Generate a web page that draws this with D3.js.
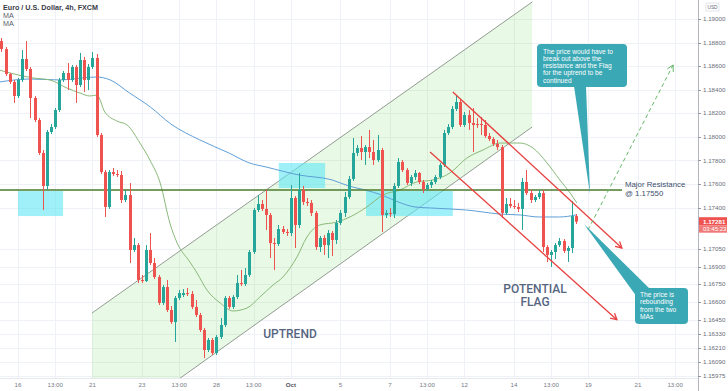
<!DOCTYPE html>
<html>
<head>
<meta charset="utf-8">
<script src="https://cdn.jsdelivr.net/npm/d3@7"></script>
<style>
  body { margin: 0; background: #fff; }
  svg { display: block; font-family: 'Liberation Sans', Arial, sans-serif; }
</style>
</head>
<body>
<div id="chart-area"></div>
<script>
// EUR/USD 4h candles, 6 slots per trading day, first candle sits in slot 2
const firstSlot = 2

const opens = [
  1.18813, 1.18745, 1.18533, 1.18466, 1.18347, 1.18483, 1.18661, 1.18576, 1.18330, 1.18143,
  1.17864, 1.17584, 1.18042, 1.18084, 1.18228, 1.18483, 1.18542, 1.18483, 1.18593, 1.18440,
  1.18652, 1.18483, 1.18593, 1.18669, 1.18016, 1.17702, 1.17406, 1.17702, 1.17685, 1.17677,
  1.17465, 1.17507, 1.17041, 1.17083, 1.16787, 1.16778, 1.17041, 1.16931, 1.16812, 1.16592,
  1.16727, 1.16532, 1.16430, 1.16634, 1.16659, 1.16676, 1.16668, 1.16558, 1.16490, 1.16363,
  1.16193, 1.16278, 1.16168, 1.16303, 1.16405, 1.16634, 1.16558, 1.16642, 1.16761, 1.16753,
  1.16829, 1.17024, 1.17380, 1.17431, 1.17389, 1.17338, 1.17100, 1.17092, 1.17219, 1.17194,
  1.17185, 1.17482, 1.17253, 1.17550, 1.17448, 1.17440, 1.17355, 1.17066, 1.17143, 1.17083,
  1.17185, 1.17126, 1.17270, 1.17355, 1.17490, 1.17643, 1.17864, 1.17906, 1.17872, 1.17914,
  1.17872, 1.17804, 1.17889, 1.17338, 1.17355, 1.17346, 1.17584, 1.17787, 1.17719, 1.17609,
  1.17660, 1.17694, 1.17618, 1.17558, 1.17592, 1.17618, 1.17660, 1.17762, 1.18033, 1.18084,
  1.18237, 1.18296, 1.18101, 1.18186, 1.18118, 1.18109, 1.18109, 1.18101, 1.18008, 1.17982,
  1.17940, 1.17914, 1.17355, 1.17431, 1.17414, 1.17406, 1.17389, 1.17618, 1.17524, 1.17465,
  1.17490, 1.17524, 1.17066, 1.16999, 1.17024, 1.17083, 1.17117, 1.17033, 1.17058, 1.17329
]
const highs = [
  1.18839, 1.18762, 1.18542, 1.18483, 1.18500, 1.18737, 1.18813, 1.18593, 1.18347, 1.18160,
  1.17889, 1.18059, 1.18109, 1.18245, 1.18500, 1.18559, 1.18627, 1.18610, 1.18610, 1.18712,
  1.18678, 1.18618, 1.18720, 1.18703, 1.18033, 1.17719, 1.17719, 1.17736, 1.17719, 1.17711,
  1.17550, 1.17609, 1.17143, 1.17100, 1.16829, 1.17083, 1.17185, 1.16973, 1.16829, 1.16744,
  1.16787, 1.16566, 1.16651, 1.16702, 1.16710, 1.16719, 1.16693, 1.16617, 1.16507, 1.16380,
  1.16295, 1.16295, 1.16320, 1.16464, 1.16651, 1.16651, 1.16659, 1.16829, 1.16871, 1.16888,
  1.17041, 1.17397, 1.17507, 1.17465, 1.17550, 1.17355, 1.17143, 1.17253, 1.17245, 1.17219,
  1.17592, 1.17499, 1.17694, 1.17584, 1.17482, 1.17465, 1.17372, 1.17160, 1.17168, 1.17211,
  1.17202, 1.17295, 1.17380, 1.17533, 1.17669, 1.17991, 1.17931, 1.18008, 1.17931, 1.18059,
  1.17974, 1.18016, 1.17906, 1.17380, 1.17397, 1.17609, 1.17821, 1.17804, 1.17736, 1.17677,
  1.17719, 1.17702, 1.17635, 1.17609, 1.17635, 1.17677, 1.17779, 1.18059, 1.18109, 1.18262,
  1.18347, 1.18313, 1.18211, 1.18228, 1.18245, 1.18160, 1.18169, 1.18143, 1.18033, 1.17999,
  1.17974, 1.17931, 1.17482, 1.17482, 1.17465, 1.17440, 1.17652, 1.17719, 1.17550, 1.17507,
  1.17550, 1.17550, 1.17083, 1.17041, 1.17100, 1.17143, 1.17134, 1.17075, 1.17457, 1.17346
]
const lows = [
  1.18720, 1.18517, 1.18449, 1.18288, 1.18330, 1.18466, 1.18559, 1.18160, 1.18126, 1.17847,
  1.17380, 1.17550, 1.18025, 1.18067, 1.18211, 1.18466, 1.18398, 1.18466, 1.18288, 1.18423,
  1.18381, 1.18398, 1.18576, 1.18000, 1.17686, 1.17321, 1.17389, 1.17669, 1.17660, 1.17440,
  1.17448, 1.16931, 1.17024, 1.16761, 1.16761, 1.16770, 1.16914, 1.16795, 1.16575, 1.16575,
  1.16515, 1.16414, 1.16261, 1.16617, 1.16642, 1.16651, 1.16541, 1.16473, 1.16346, 1.16125,
  1.16176, 1.16151, 1.16151, 1.16286, 1.16388, 1.16541, 1.16541, 1.16625, 1.16736, 1.16736,
  1.16812, 1.17007, 1.17363, 1.17372, 1.17211, 1.16973, 1.16871, 1.17075, 1.17177, 1.17160,
  1.17160, 1.17058, 1.17228, 1.17423, 1.17414, 1.17329, 1.17041, 1.17024, 1.16999, 1.16973,
  1.16990, 1.17092, 1.17253, 1.17321, 1.17473, 1.17626, 1.17838, 1.17804, 1.17762, 1.17821,
  1.17762, 1.17787, 1.17194, 1.17312, 1.17321, 1.17312, 1.17567, 1.17702, 1.17592, 1.17584,
  1.17635, 1.17601, 1.17524, 1.17541, 1.17567, 1.17601, 1.17643, 1.17745, 1.18016, 1.18067,
  1.18220, 1.18084, 1.18084, 1.18059, 1.17872, 1.18076, 1.18016, 1.17991, 1.17965, 1.17923,
  1.17889, 1.17312, 1.17338, 1.17397, 1.17389, 1.17363, 1.17211, 1.17507, 1.17440, 1.17448,
  1.17473, 1.17024, 1.16939, 1.16897, 1.16965, 1.17066, 1.17016, 1.16939, 1.17016, 1.17261
]
const closes = [
  1.18745, 1.18533, 1.18466, 1.18347, 1.18483, 1.18661, 1.18576, 1.18330, 1.18143, 1.17864,
  1.17584, 1.18042, 1.18084, 1.18228, 1.18483, 1.18542, 1.18483, 1.18593, 1.18440, 1.18652,
  1.18483, 1.18593, 1.18669, 1.18016, 1.17702, 1.17406, 1.17702, 1.17685, 1.17677, 1.17465,
  1.17507, 1.17041, 1.17083, 1.16787, 1.16778, 1.17041, 1.16931, 1.16812, 1.16592, 1.16727,
  1.16532, 1.16430, 1.16634, 1.16676, 1.16676, 1.16668, 1.16558, 1.16490, 1.16363, 1.16193,
  1.16278, 1.16168, 1.16303, 1.16405, 1.16634, 1.16558, 1.16642, 1.16761, 1.16753, 1.16829,
  1.17024, 1.17380, 1.17431, 1.17389, 1.17338, 1.17100, 1.17092, 1.17219, 1.17194, 1.17185,
  1.17482, 1.17253, 1.17550, 1.17448, 1.17440, 1.17355, 1.17066, 1.17143, 1.17083, 1.17185,
  1.17126, 1.17270, 1.17355, 1.17490, 1.17643, 1.17864, 1.17906, 1.17872, 1.17914, 1.17872,
  1.17804, 1.17889, 1.17338, 1.17355, 1.17346, 1.17584, 1.17787, 1.17719, 1.17609, 1.17660,
  1.17694, 1.17618, 1.17558, 1.17592, 1.17618, 1.17660, 1.17762, 1.18033, 1.18084, 1.18237,
  1.18296, 1.18101, 1.18186, 1.18118, 1.18101, 1.18101, 1.18101, 1.18008, 1.17982, 1.17940,
  1.17914, 1.17355, 1.17431, 1.17414, 1.17406, 1.17389, 1.17618, 1.17524, 1.17465, 1.17490,
  1.17524, 1.17066, 1.16999, 1.17024, 1.17083, 1.17117, 1.17033, 1.17058, 1.17329, 1.17281
]

// moving averages at these slots
const slowMaSlots = [1.5, 9, 16, 25, 28.3, 33, 38, 43, 50, 57, 62, 66, 74, 82, 86, 90, 94, 98, 102, 106, 110.5, 114.5, 122.6, 127.5, 132, 137, 141]
const slowMa = [1.18466, 1.18491, 1.18483, 1.18508, 1.18483, 1.18372, 1.18254, 1.18109, 1.17974, 1.17864, 1.17779, 1.17745, 1.17677, 1.17635, 1.17584, 1.17550, 1.17507, 1.17448, 1.17406, 1.17397, 1.17389, 1.17380, 1.17346, 1.17338, 1.17321, 1.17321, 1.17338]
const fastMaSlots = [1.5, 4.1, 9.6, 13.7, 17.8, 21, 23.4, 25.1, 27, 29.9, 32.4, 35.5, 37.9, 40.4, 42.8, 44.5, 47.6, 49.3, 51.7, 54.9, 58, 61.4, 64.5, 67.7, 70.1, 73.5, 75.9, 79, 83.2, 86.3, 90.4, 94.3, 98.4, 102.5, 106.4, 110.5, 114.6, 118.5, 122.6, 127.5, 130.6, 134, 137.1, 139.6, 141.2]
const fastMa = [1.18567, 1.18542, 1.18500, 1.18483, 1.18415, 1.18372, 1.18347, 1.18355, 1.18211, 1.18135, 1.18101, 1.17948, 1.17804, 1.17609, 1.17262, 1.17100, 1.16939, 1.16846, 1.16702, 1.16592, 1.16524, 1.16549, 1.16642, 1.16744, 1.16812, 1.16982, 1.17151, 1.17253, 1.17278, 1.17321, 1.17406, 1.17507, 1.17550, 1.17618, 1.17635, 1.17694, 1.17821, 1.17889, 1.17948, 1.17948, 1.17906, 1.17779, 1.17635, 1.17524, 1.17440]

// time axis
const xTickSlots = [6, 15, 24, 36, 45, 54, 63, 72, 84, 96, 105, 114, 126, 135, 144, 156, 165]
const xTickLabels = ['16', '13:00', '21', '23', '13:00', '28', '13:00', 'Oct', '5', '7', '13:00', '12', '14', '13:00', '19', '21', '13:00']

// price axis
const yTicks = [1.19, 1.188, 1.186, 1.184, 1.182, 1.18, 1.178, 1.176, 1.174, 1.1705, 1.169, 1.1675, 1.166, 1.1645, 1.1633, 1.1621, 1.1609, 1.15975]
const lastPrice = 1.17281
const resistance = 1.17550

// drawings on the chart, in slot / price units
const channelSlots = [23.9, 130.4]
const channelUpper = [1.16507, 1.19144]
const channelLower = [1.15421, 1.18084]
const zoneSlots = [[6, 16.9], [69.1, 80.3], [90.2, 111.2]]
const zonePrices = [[1.17541, 1.17329], [1.17779, 1.17567], [1.17541, 1.17329]]
const flagUpper = [[111.2, 1.18381], [152.1, 1.17058]]
const flagLower = [[105.7, 1.17872], [150.9, 1.16450]]
const breakout = [[143.9, 1.17211], [164.5, 1.18610]]

const width = 728
const height = 391
const plotW = 698
const plotH = 378

const svg = d3.select('#chart-area')
              .append('svg')
              .attr('width', width)
              .attr('height', height)

const x = d3.scaleLinear()
            .domain([0, 170])
            .range([-6.77, -6.77 + 4.133 * 170])

const y = d3.scaleLinear()
            .domain([1.19161 - 391 * 0.0000848, 1.19161])
            .range([391, 0])

svg.append('defs').append('clipPath')
   .attr('id', 'plot')
   .append('rect')
   .attr('width', plotW)
   .attr('height', plotH)

// GRID
const grid = svg.append('g')
grid.selectAll('.vg')
    .data(xTickSlots)
    .enter().append('line')
    .attr('x1', d => Math.round(x(d)) + 0.5)
    .attr('x2', d => Math.round(x(d)) + 0.5)
    .attr('y1', 0).attr('y2', plotH)
    .attr('stroke', '#eef1f5')
grid.selectAll('.hg')
    .data(yTicks)
    .enter().append('line')
    .attr('x1', 0).attr('x2', plotW)
    .attr('y1', d => Math.round(y(d)) + 0.5)
    .attr('y2', d => Math.round(y(d)) + 0.5)
    .attr('stroke', '#eef1f5')

const g = svg.append('g').attr('clip-path', 'url(#plot)')

// UPTREND CHANNEL
const chanPoly = [
  [x(channelSlots[0]), y(channelUpper[0])],
  [x(channelSlots[1]), y(channelUpper[1])],
  [x(channelSlots[1]), y(channelLower[1])],
  [x(channelSlots[0]), y(channelLower[0])]
]
g.append('polygon')
 .attr('points', chanPoly.map(p => p.join(',')).join(' '))
 .attr('fill', 'rgba(120, 220, 100, 0.17)')
g.append('line')
 .attr('x1', chanPoly[0][0]).attr('y1', chanPoly[0][1])
 .attr('x2', chanPoly[1][0]).attr('y2', chanPoly[1][1])
 .attr('stroke', '#939c92').attr('stroke-width', 1)
g.append('line')
 .attr('x1', chanPoly[3][0]).attr('y1', chanPoly[3][1])
 .attr('x2', chanPoly[2][0]).attr('y2', chanPoly[2][1])
 .attr('stroke', '#939c92').attr('stroke-width', 1)

// SUPPORT / RESISTANCE ZONES
g.selectAll('.zone')
 .data(zoneSlots)
 .enter().append('rect')
 .attr('x', d => x(d[0]))
 .attr('width', d => x(d[1]) - x(d[0]))
 .attr('y', (d, i) => y(zonePrices[i][0]))
 .attr('height', (d, i) => y(zonePrices[i][1]) - y(zonePrices[i][0]))
 .attr('fill', '#5fe6f3')
 .attr('opacity', 0.6)

// MOVING AVERAGES
const maLine = d3.line()
                 .x(d => x(d[0]))
                 .y(d => y(d[1]))
                 .curve(d3.curveMonotoneX)
g.append('path')
 .attr('d', maLine(d3.zip(slowMaSlots, slowMa)))
 .attr('fill', 'none')
 .attr('stroke', '#5f9fd8')
 .attr('stroke-width', 1)
g.append('path')
 .attr('d', maLine(d3.zip(fastMaSlots, fastMa)))
 .attr('fill', 'none')
 .attr('stroke', '#8ab97a')
 .attr('stroke-width', 1)

// RESISTANCE LINE
g.append('line')
 .attr('x1', 0).attr('x2', 622)
 .attr('y1', y(resistance)).attr('y2', y(resistance))
 .attr('stroke', '#4b7a2b')
 .attr('stroke-width', 1.3)

// CANDLES
const candles = opens.map((o, i) => ({
  slot: firstSlot + i, o: o, h: highs[i], l: lows[i], c: closes[i]
}))
const up = '#26a69a'
const down = '#ef5350'
const cg = g.append('g')
cg.selectAll('.wick')
  .data(candles)
  .enter().append('rect')
  .attr('x', d => Math.round(x(d.slot)))
  .attr('width', 1)
  .attr('y', d => y(d.h))
  .attr('height', d => y(d.l) - y(d.h))
  .attr('fill', d => d.c >= d.o ? up : down)
cg.selectAll('.body')
  .data(candles)
  .enter().append('rect')
  .attr('x', d => Math.round(x(d.slot)) - 1)
  .attr('width', 3)
  .attr('y', d => y(Math.max(d.o, d.c)))
  .attr('height', d => Math.max(1, Math.abs(y(d.o) - y(d.c))))
  .attr('fill', d => d.c >= d.o ? up : down)

// ARROWS
function arrow (sel, p1, p2, color, w, dash) {
  const x1 = x(p1[0]), y1 = y(p1[1]), x2 = x(p2[0]), y2 = y(p2[1])
  sel.append('line')
     .attr('x1', x1).attr('y1', y1).attr('x2', x2).attr('y2', y2)
     .attr('stroke', color).attr('stroke-width', w)
     .attr('stroke-dasharray', dash || null)
  const a = Math.atan2(y2 - y1, x2 - x1)
  const pts = [-0.5, 0.5].map(s => [x2 + 7 * Math.cos(a + Math.PI + s), y2 + 7 * Math.sin(a + Math.PI + s)])
  sel.append('path')
     .attr('d', 'M' + pts[0].join(',') + 'L' + x2 + ',' + y2 + 'L' + pts[1].join(','))
     .attr('fill', 'none').attr('stroke', color).attr('stroke-width', w)
}
arrow(g, flagUpper[0], flagUpper[1], '#e8403f', 1.3)
arrow(g, flagLower[0], flagLower[1], '#e8403f', 1.3)
arrow(g, breakout[0], breakout[1], '#66b86a', 1, '4,3')

// LABELS ON CHART
svg.append('text')
   .attr('x', 625).attr('y', 187)
   .attr('font-size', '7.8px').attr('fill', '#3d4f6e')
   .text('Major Resistance')
svg.append('text')
   .attr('x', 625).attr('y', 196)
   .attr('font-size', '7.8px').attr('fill', '#3d4f6e')
   .text('@ 1.17550')
svg.append('text')
   .attr('x', 290).attr('y', 338)
   .attr('text-anchor', 'middle')
   .attr('font-family', 'Roboto, sans-serif')
   .attr('font-size', '12px').attr('font-weight', 500)
   .attr('fill', '#56657f')
   .text('UPTREND')
svg.append('text')
   .attr('x', 535).attr('y', 293)
   .attr('text-anchor', 'middle')
   .attr('font-family', 'Roboto, sans-serif')
   .attr('font-size', '12px').attr('font-weight', 500)
   .attr('fill', '#56657f')
   .text('POTENTIAL')
svg.append('text')
   .attr('x', 535).attr('y', 306)
   .attr('text-anchor', 'middle')
   .attr('font-family', 'Roboto, sans-serif')
   .attr('font-size', '12px').attr('font-weight', 500)
   .attr('fill', '#56657f')
   .text('FLAG')

// CALLOUTS
const teal = '#3aa8b5'
function callout (box, pointer, lines, tx, ty) {
  const cgr = svg.append('g')
  cgr.append('polygon')
     .attr('points', pointer.map(p => p.join(',')).join(' '))
     .attr('fill', teal)
  cgr.append('rect')
     .attr('x', box[0]).attr('y', box[1])
     .attr('width', box[2]).attr('height', box[3])
     .attr('rx', 4).attr('fill', teal)
  cgr.selectAll('text')
     .data(lines)
     .enter().append('text')
     .attr('x', tx)
     .attr('y', (d, i) => ty + i * 7.3)
     .attr('font-size', '6.6px')
     .attr('fill', '#fff')
     .text(d => d)
}
callout([537, 44, 90, 43], [[574, 86], [586, 86], [590, 194]],
  ['The price would have to', 'break out above the', 'resistance and the Flag', 'for the uptrend to be', 'continued'], 543, 53.5)
callout([635, 288, 53, 36], [[637, 297], [650, 289], [584, 224]],
  ['The price is', 'rebounding', 'from the two', 'MAs'], 640, 297)

// RIGHT PRICE AXIS
svg.append('line')
   .attr('x1', plotW + 0.5).attr('x2', plotW + 0.5)
   .attr('y1', 0).attr('y2', height)
   .attr('stroke', '#b2b5be')
const ya = svg.append('g')
ya.selectAll('line')
  .data(yTicks)
  .enter().append('line')
  .attr('x1', plotW).attr('x2', plotW + 3)
  .attr('y1', d => Math.round(y(d)) + 0.5)
  .attr('y2', d => Math.round(y(d)) + 0.5)
  .attr('stroke', '#9598a1')
ya.selectAll('text')
  .data(yTicks)
  .enter().append('text')
  .attr('x', plotW + 5)
  .attr('y', d => y(d))
  .attr('dy', '0.35em')
  .attr('font-size', '6.2px')
  .attr('fill', '#6a6d78')
  .text(d => d3.format('.5f')(d))

svg.append('rect')
   .attr('x', 706).attr('y', 3).attr('width', 13).attr('height', 8)
   .attr('fill', '#fff').attr('stroke', '#d1d4dc').attr('stroke-width', 0.6)
svg.append('text')
   .attr('x', 712.5).attr('y', 9)
   .attr('text-anchor', 'middle')
   .attr('font-size', '4.8px').attr('fill', '#6a6d78')
   .text('USD')

svg.append('rect')
   .attr('x', plotW + 1).attr('y', y(lastPrice) - 4.5)
   .attr('width', 28).attr('height', 8)
   .attr('fill', down)
svg.append('text')
   .attr('x', plotW + 5).attr('y', y(lastPrice))
   .attr('dy', '0.35em')
   .attr('font-size', '6.2px').attr('font-weight', 'bold').attr('fill', '#fff')
   .text(d3.format('.5f')(lastPrice))
svg.append('rect')
   .attr('x', plotW + 1).attr('y', y(lastPrice) + 3.5)
   .attr('width', 28).attr('height', 7.5)
   .attr('fill', '#f07a78')
svg.append('text')
   .attr('x', plotW + 5).attr('y', y(lastPrice) + 7.5)
   .attr('dy', '0.35em')
   .attr('font-size', '6px').attr('fill', '#fff')
   .text('03:45:23')

// TIME AXIS
svg.append('line')
   .attr('x1', 0).attr('x2', plotW)
   .attr('y1', plotH + 0.5).attr('y2', plotH + 0.5)
   .attr('stroke', '#e6e8ee')
svg.selectAll('.xt')
   .data(xTickSlots)
   .enter().append('text')
   .attr('x', d => x(d))
   .attr('y', 387)
   .attr('text-anchor', 'middle')
   .attr('font-size', '6.2px')
   .attr('font-weight', (d, i) => xTickLabels[i] === 'Oct' ? 'bold' : 'normal')
   .attr('fill', (d, i) => xTickLabels[i] === 'Oct' ? '#50535e' : '#787b86')
   .text((d, i) => xTickLabels[i])

// TITLE
svg.append('text')
   .attr('x', 3).attr('y', 9.5)
   .attr('font-size', '7.2px').attr('font-weight', 'bold').attr('fill', '#3a3d48')
   .text('Euro / U.S. Dollar, 4h, FXCM')
svg.append('text')
   .attr('x', 3).attr('y', 17.5)
   .attr('font-size', '7.2px').attr('fill', '#5d606b')
   .text('MA')
svg.append('text')
   .attr('x', 3).attr('y', 25.5)
   .attr('font-size', '7.2px').attr('fill', '#5d606b')
   .text('MA')
</script>
</body>
</html>
